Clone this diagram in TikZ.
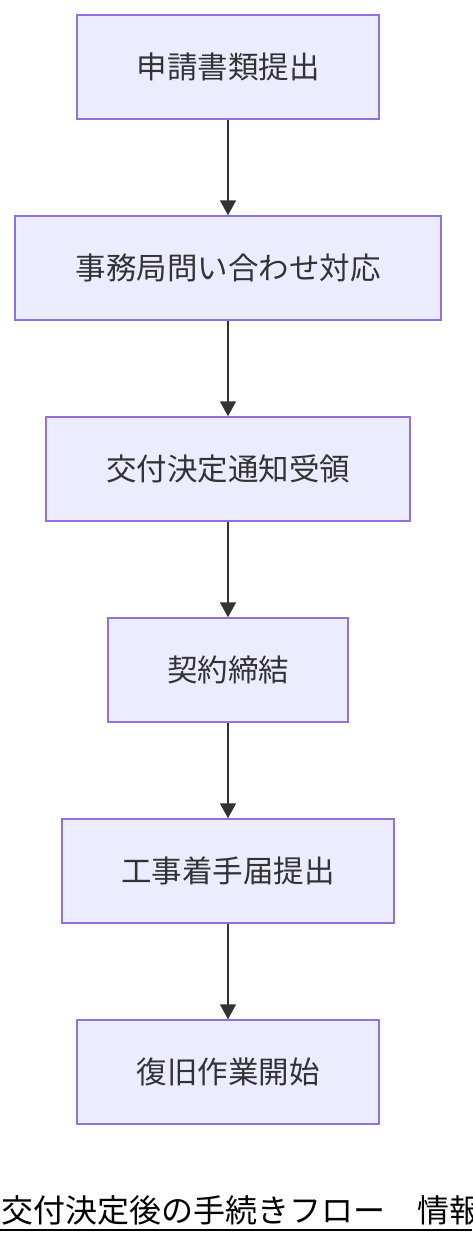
\documentclass[tikz,border=0pt]{standalone}
\usepackage{fontspec}
\newfontfamily\jp{Noto Sans CJK JP}
\usetikzlibrary{arrows.meta}
\definecolor{boxfill}{HTML}{ECECFF}
\definecolor{boxdraw}{HTML}{9370DB}
\definecolor{ink}{HTML}{333333}
\tikzset{
  stepbox/.style={draw=boxdraw, fill=boxfill, line width=1.5pt, rectangle, inner sep=0pt,
    text=ink, font=\jp\fontsize{30.5}{34}\selectfont},
  flow/.style={draw=ink, line width=1.8pt, -{Triangle[length=15pt,width=16pt]}}
}
\begin{document}
\begin{tikzpicture}[x=1pt,y=-1pt]
\useasboundingbox (0,0) rectangle (472,1244);
\clip (0,0) rectangle (472,1244);
\node[stepbox, minimum width=302pt, minimum height=104pt] (n1) at (228,67) {申請書類提出};
\node[stepbox, minimum width=426pt, minimum height=104pt] (n2) at (228,268) {事務局問い合わせ対応};
\node[stepbox, minimum width=364pt, minimum height=104pt] (n3) at (228,469) {交付決定通知受領};
\node[stepbox, minimum width=240pt, minimum height=104pt] (n4) at (228,670) {契約締結};
\node[stepbox, minimum width=332pt, minimum height=104pt] (n5) at (228,871) {工事着手届提出};
\node[stepbox, minimum width=302pt, minimum height=104pt] (n6) at (228,1072) {復旧作業開始};
\draw[flow] (n1) -- (n2);
\draw[flow] (n2) -- (n3);
\draw[flow] (n3) -- (n4);
\draw[flow] (n4) -- (n5);
\draw[flow] (n5) -- (n6);
\node[anchor=base west, inner sep=0pt, font=\jp\fontsize{32}{36}\selectfont, text=black] (cap) at (1,1222) {交付決定後の手続きフロー　情報};
\coordinate (ul1) at (0,1229.5);
\coordinate (ul2) at (472,1229.5);
\draw[line width=2pt, black] (ul1) -- (ul2);
\end{tikzpicture}
\end{document}
